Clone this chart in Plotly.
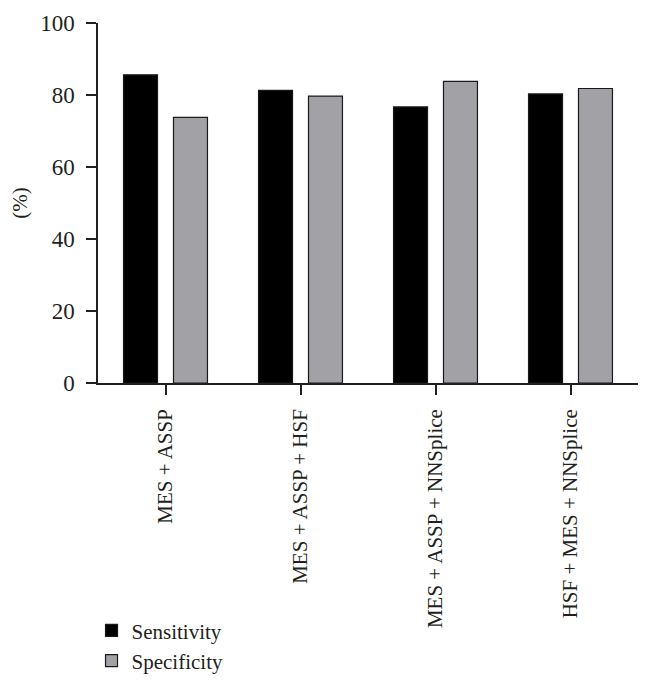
import plotly.graph_objects as go

categories = ["MES + ASSP", "MES + ASSP + HSF", "MES + ASSP + NNSplice", "HSF + MES + NNSplice"]
sensitivity = [85.6, 81.3, 76.7, 80.3]
specificity = [73.8, 79.7, 83.8, 81.8]
y_ticks = [0, 20, 40, 60, 80, 100]

FONT = "Liberation Serif, DejaVu Serif, serif"
TEXT = "#231f20"

fig = go.Figure()
fig.add_trace(go.Bar(name="Sensitivity", x=categories, y=sensitivity,
                     marker=dict(color="#000000", line=dict(color="#1a1a1a", width=1.2))))
fig.add_trace(go.Bar(name="Specificity", x=categories, y=specificity,
                     marker=dict(color="#a2a1a6", line=dict(color="#1a1a1a", width=1.2))))

fig.update_layout(
    width=653, height=686,
    margin=dict(l=90, r=23, t=15, b=311, autoexpand=False),
    paper_bgcolor="white", plot_bgcolor="white",
    barmode="group", bargap=0.26, bargroupgap=0.32,
    font=dict(family=FONT, size=21, color=TEXT),
    showlegend=True,
    legend=dict(x=-0.012, y=-0.631, xanchor="left", yanchor="top",
                font=dict(family=FONT, size=21, color=TEXT),
                bgcolor="rgba(0,0,0,0)", tracegroupgap=0),
    xaxis=dict(range=[-0.5, 3.5], showline=True, linecolor="#231f20", linewidth=1.5,
               ticks="outside", ticklen=10, tickwidth=1.5, tickcolor="#231f20",
               tickangle=-90, showgrid=False, zeroline=False, ticklabelstandoff=6,
               tickfont=dict(family=FONT, size=21, color=TEXT)),
    yaxis=dict(range=[0, 100], tickvals=y_ticks, showline=True, linecolor="#231f20",
               linewidth=1.5, ticks="outside", ticklen=10, tickwidth=1.5,
               tickcolor="#231f20", showgrid=False, zeroline=False, ticklabelstandoff=7,
               title=dict(text="(%)", standoff=16, font=dict(family=FONT, size=21, color=TEXT)),
               tickfont=dict(family=FONT, size=23, color=TEXT)),
)

fig.write_html("out.html")
